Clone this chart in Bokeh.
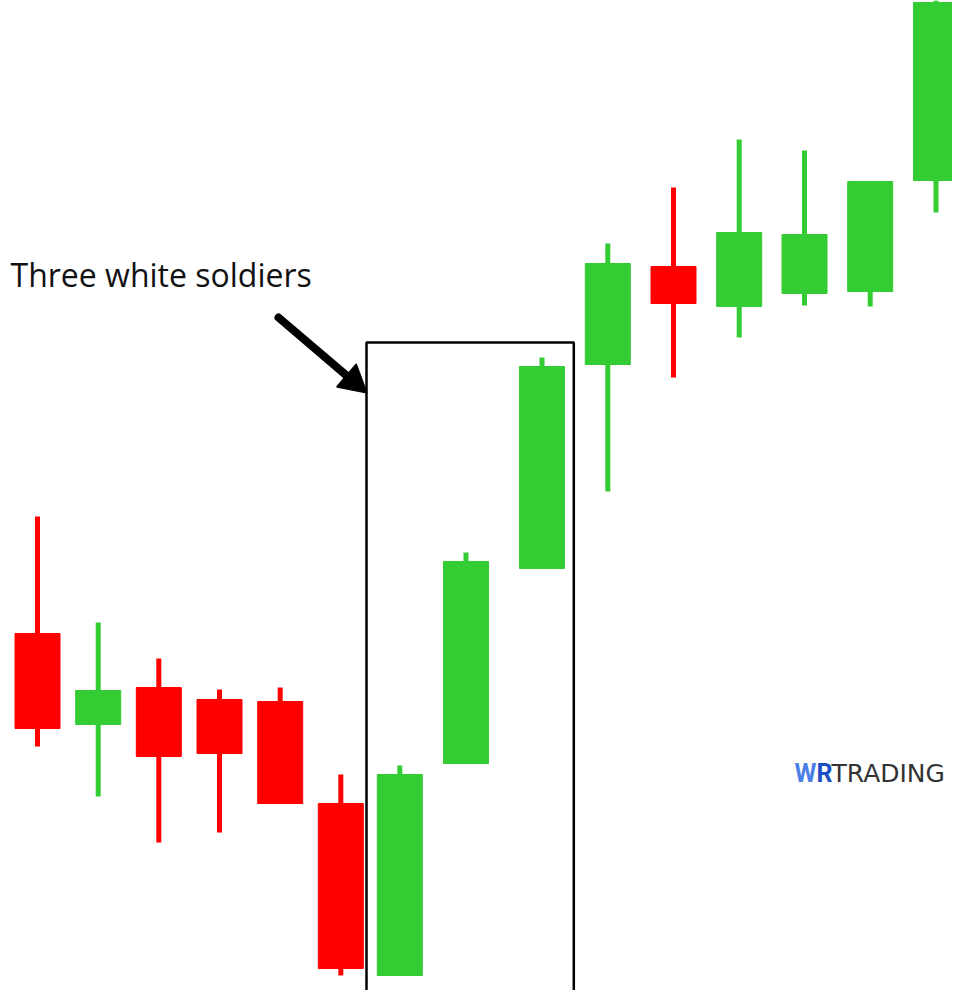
import numpy as np
from bokeh.plotting import figure
from bokeh.models import Range1d, Label, BoxAnnotation, ColumnDataSource
from bokeh.embed import file_html
from bokeh.resources import INLINE

# ---- data ----
bar_time = [3.7, 9.77, 15.83, 21.9, 27.97, 34.03, 39.93, 46.55, 54.15,
            60.73, 67.3, 73.87, 80.4, 86.97, 93.55]
open_ = [136.5, 127.4, 131.1, 129.9, 129.7, 119.5, 102.3, 123.5, 143.0,
         163.4, 173.2, 169.2, 170.5, 170.7, 181.8]
close = [127.0, 130.8, 124.2, 124.5, 119.5, 103.0, 122.4, 143.7, 163.2,
         173.5, 169.5, 176.6, 176.4, 181.7, 199.6]
high = [148.2, 137.6, 134.0, 130.9, 131.1, 122.4, 123.3, 144.6, 164.1,
        175.5, 181.1, 185.9, 184.8, 181.7, 199.8]
low = [125.2, 120.2, 115.6, 116.6, 119.5, 102.3, 102.3, 123.5, 143.0,
       150.7, 162.1, 166.1, 169.3, 169.2, 178.6]

pattern_label = "Three white soldiers"
pattern_first, pattern_last = 6, 8
brand_a, brand_b = "WR", "TRADING"

GREEN = "#33CC33"
RED = "#FF0000"

colors = [GREEN if c >= o else RED for o, c in zip(open_, close)]
src = ColumnDataSource(dict(
    t=bar_time, o=open_, c=close, h=high, l=low,
    top=[max(o, c) for o, c in zip(open_, close)],
    bot=[min(o, c) for o, c in zip(open_, close)],
    color=colors,
))

p = figure(width=952, height=990, output_backend="svg", toolbar_location=None,
           x_range=Range1d(0.0, 95.2), y_range=Range1d(100.8, 199.8),
           x_axis_location=None, y_axis_location=None, min_border=0,
           background_fill_color="white", border_fill_color="white")
p.grid.visible = False
p.outline_line_color = None

p.segment(x0="t", y0="h", x1="t", y1="l", line_color="color", line_width=5, source=src)
p.vbar(x="t", width=4.5, top="top", bottom="bot", fill_color="color",
       line_color="color", line_width=1, source=src)

# pattern box
box = BoxAnnotation(left=bar_time[pattern_first] - 3.33, right=bar_time[pattern_last] + 3.18,
                    top=max(high[pattern_first:pattern_last + 1]) + 1.5,
                    bottom=min(low[pattern_first:pattern_last + 1]) - 2.1,
                    fill_alpha=0, line_color="black", line_alpha=1.0, line_width=2.5)
p.add_layout(box)

# label
p.add_layout(Label(x=1.0, y=172.4, text=pattern_label, text_font="Open Sans",
                   text_font_size="32px", text_color="#111111", text_baseline="alphabetic"))

# arrow: shaft + triangular head
tail = np.array([27.8, 168.1])
tip = np.array([36.6, 160.6])
d = (tip - tail) / np.linalg.norm(tip - tail)
perp = np.array([-d[1], d[0]])
base = tip - 2.6 * d
p.segment(x0=[tail[0]], y0=[tail[1]], x1=[base[0] + 0.3 * d[0]], y1=[base[1] + 0.3 * d[1]],
          line_color="black", line_width=8, line_cap="round")
head_x = [tip[0], base[0] + 1.45 * perp[0], base[0] - 1.45 * perp[0]]
head_y = [tip[1], base[1] + 1.45 * perp[1], base[1] - 1.45 * perp[1]]
p.patch(head_x, head_y, fill_color="black", line_color="black", line_width=2, line_join="round")

# brand logo
p.add_layout(Label(x=79.4, y=122.5, text=brand_a[0], text_font="Roboto", text_font_style="bold",
                   text_font_size="25px", text_color="#4A7FE6", text_baseline="alphabetic"))
p.add_layout(Label(x=81.6, y=122.5, text=brand_a[1], text_font="Roboto", text_font_style="bold",
                   text_font_size="25px", text_color="#1D4FC4", text_baseline="alphabetic"))
p.add_layout(Label(x=83.1, y=122.5, text=brand_b, text_font="DejaVu Sans",
                   text_font_size="25px", text_color="#333333", text_baseline="alphabetic"))

open("out.html", "w").write(file_html(p, INLINE))
